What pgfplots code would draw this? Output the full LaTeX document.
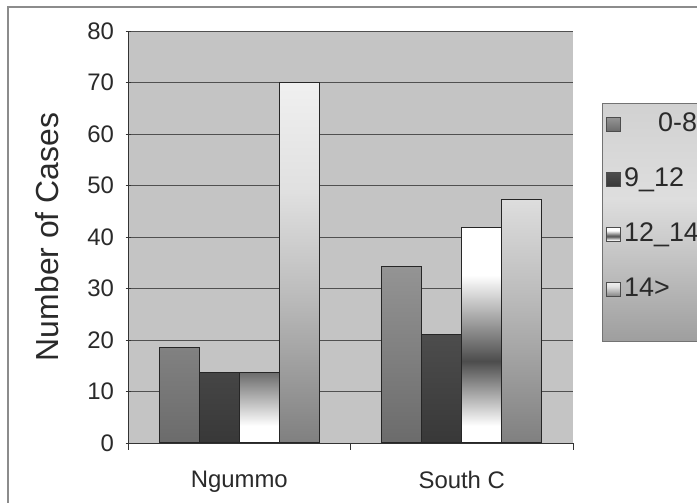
\documentclass[border=0pt]{standalone}
\usepackage{pgfplots}
\pgfplotsset{compat=1.18}
\usepackage{fontspec}
\setmainfont{Liberation Sans}
\definecolor{bgplot}{HTML}{C4C4C4}
\definecolor{txt}{HTML}{2A2A2A}
\definecolor{gridc}{HTML}{505050}
\pgfdeclareverticalshading{sA}{100bp}{color(0bp)=(black!58); color(25bp)=(black!58); color(75bp)=(black!42); color(100bp)=(black!42)}
\pgfdeclareverticalshading{sB}{100bp}{color(0bp)=(black!78); color(25bp)=(black!78); color(75bp)=(black!70); color(100bp)=(black!70)}
\pgfdeclareverticalshading{sC}{100bp}{color(0bp)=(white); color(25bp)=(white); color(29bp)=(white); color(44bp)=(black!70); color(54bp)=(black!35); color(64bp)=(white); color(75bp)=(white); color(100bp)=(white)}
\pgfdeclareverticalshading{sD}{100bp}{color(0bp)=(black!50); color(25bp)=(black!50); color(45bp)=(black!27); color(60bp)=(black!12); color(75bp)=(black!6); color(100bp)=(black!6)}
\pgfdeclareverticalshading{sL}{100bp}{color(0bp)=(black!38); color(25bp)=(black!38); color(55bp)=(black!13); color(75bp)=(black!18); color(100bp)=(black!18)}
\begin{document}
\begin{tikzpicture}[x=1bp,y=1bp]
\useasboundingbox (0,0) rectangle (697,503);
\clip (0,0) rectangle (697,503);
\fill[white] (0,0) rectangle (697,503);
\draw[black!45, line width=1.5bp] (8,-5) -- (8,496) -- (710,496);
\begin{axis}[
  at={(128bp,60bp)}, anchor=south west,
  scale only axis, width=445bp, height=412bp,
  xmin=-0.5, xmax=1.5, ymin=0, ymax=80,
  ytick={0,10,...,80},
  xtick={0,1}, xticklabels={Ngummo, South C},
  minor xtick={-0.5,0.5,1.5},
  major x tick style={draw=none},
  minor tick length=7bp, major tick length=5bp,
  tick align=outside,
  axis lines=left, axis line style={-, black!80, line width=0.9bp},
  tick style={black!80, line width=0.9bp},
  ymajorgrids, grid style={gridc, line width=0.8bp},
  axis background/.style={fill=bgplot},
  /pgf/number format/assume math mode=true,
  ticklabel style={font=\fontsize{24}{28}\selectfont, text=txt},
  xticklabel style={yshift=-20bp},
  yticklabel style={xshift=-8bp},
  ylabel={Number of Cases},
  ylabel style={font=\fontsize{32}{36}\selectfont, text=txt, yshift=22bp},
  ybar=0pt, bar width=40bp,
  legend image code/.code={\draw[#1, draw=black!70, line width=0.8bp] (0bp,-7bp) rectangle (14bp,7bp);},
  legend style={at={(1.065,0.825)}, anchor=north west, draw=black!55, line width=0.8bp,
    shading=sL, font=\fontsize{27}{31}\selectfont, text=txt,
    nodes={text height=19bp, text depth=5bp, inner sep=3bp},
    row sep=25bp, inner xsep=4bp, inner ysep=6bp},
  legend cell align=left,
]
\addplot[draw=black!85, line width=1bp, shading=sA] coordinates {(0,18.6) (1,34.2)};
\addlegendentry{\hspace*{34bp}0-8}
\addplot[draw=black!85, line width=1bp, shading=sB] coordinates {(0,13.7) (1,21.0)};
\addlegendentry{9\_12}
\addplot[draw=black!85, line width=1bp, shading=sC] coordinates {(0,13.7) (1,41.8)};
\addlegendentry{12\_14}
\addplot[draw=black!85, line width=1bp, shading=sD] coordinates {(0,70.0) (1,47.3)};
\addlegendentry{14>}
\addlegendimage{empty legend}
\addlegendentry[text height=0bp, text depth=0bp]{}
\end{axis}
\end{tikzpicture}
\end{document}
